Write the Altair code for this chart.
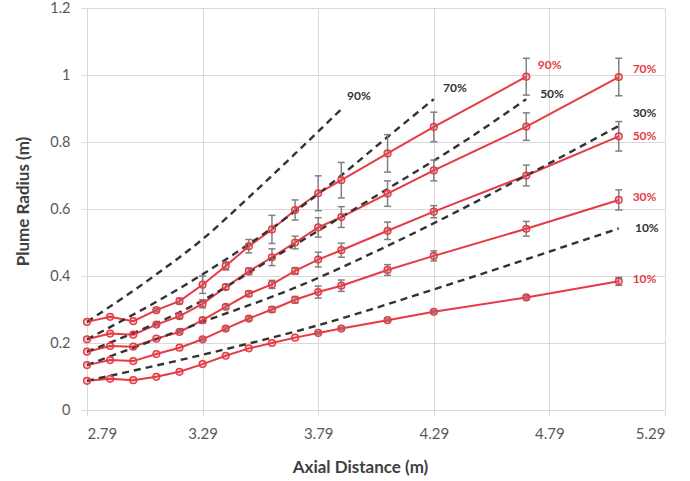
import altair as alt
import pandas as pd

RED = "#e63b44"
GRID = "#d9d9d9"
FONT = "Lato"

# Axial distance of measured points
x_exp = [2.79, 2.89, 2.99, 3.09, 3.19, 3.29, 3.39, 3.49, 3.59, 3.69, 3.79, 3.89, 4.09, 4.29, 4.69, 5.09]

# Measured plume radius (red) and error half-widths
r90 = [0.263, 0.278, 0.265, 0.298, 0.325, 0.374, 0.430, 0.489, 0.539, 0.597, 0.647, 0.686, 0.766, 0.845, 0.995]
e90 = [0, 0, 0, 0.005, 0.008, 0.026, 0.012, 0.020, 0.042, 0.030, 0.052, 0.053, 0.056, 0.044, 0.055]
r70 = [0.211, 0.228, 0.225, 0.255, 0.280, 0.317, 0.367, 0.414, 0.456, 0.500, 0.545, 0.576, 0.646, 0.715, 0.846, 0.994]
e70 = [0, 0, 0, 0.004, 0.006, 0.012, 0.008, 0.010, 0.025, 0.019, 0.029, 0.031, 0.038, 0.031, 0.041, 0.056]
r50 = [0.174, 0.191, 0.189, 0.213, 0.233, 0.268, 0.308, 0.347, 0.375, 0.415, 0.449, 0.477, 0.535, 0.592, 0.700, 0.817]
e50 = [0, 0, 0, 0, 0.004, 0.008, 0.006, 0.008, 0.012, 0.010, 0.022, 0.021, 0.026, 0.018, 0.031, 0.044]
r30 = [0.134, 0.149, 0.146, 0.167, 0.186, 0.211, 0.243, 0.273, 0.300, 0.329, 0.352, 0.371, 0.418, 0.460, 0.541, 0.627]
e30 = [0, 0, 0, 0, 0, 0.004, 0.005, 0.006, 0.008, 0.010, 0.018, 0.017, 0.016, 0.015, 0.022, 0.030]
r10 = [0.087, 0.093, 0.089, 0.099, 0.114, 0.137, 0.162, 0.184, 0.200, 0.216, 0.230, 0.243, 0.268, 0.293, 0.336, 0.384]
e10 = [0, 0, 0, 0, 0, 0, 0, 0, 0, 0, 0.004, 0.004, 0.004, 0.004, 0.005, 0.012]

# Model (dashed) curves
m90_x = [2.79, 3.09, 3.29, 3.49, 3.69, 3.89]
m90_y = [0.263, 0.405, 0.510, 0.635, 0.765, 0.898]
m70_x = [2.79, 3.29, 3.79, 4.09, 4.29]
m70_y = [0.211, 0.405, 0.645, 0.815, 0.928]
m50_x = [2.79, 3.29, 3.59, 4.09, 4.44, 4.69]
m50_y = [0.174, 0.327, 0.452, 0.660, 0.810, 0.928]
m30_x = [2.79, 3.29, 3.69, 4.09, 4.69, 5.09]
m30_y = [0.134, 0.263, 0.365, 0.490, 0.700, 0.848]
m10_x = [2.79, 3.29, 3.79, 4.29, 4.69, 5.09]
m10_y = [0.087, 0.165, 0.253, 0.360, 0.450, 0.542]

# Labels
red_labels = ["90%", "70%", "50%", "30%", "10%"]
red_lab_x = [4.74, 5.15, 5.15, 5.15, 5.15]
red_lab_y = [1.03, 1.018, 0.818, 0.635, 0.390]
blk_labels = ["90%", "70%", "50%", "30%", "10%"]
blk_lab_x = [3.915, 4.33, 4.75, 5.15, 5.16]
blk_lab_y = [0.937, 0.962, 0.943, 0.888, 0.542]

x_ticks = [2.79, 3.29, 3.79, 4.29, 4.79, 5.29]
y_ticks = [0, 0.2, 0.4, 0.6, 0.8, 1.0, 1.2]

rows = []
for name, ys, es in [("90%", r90, e90), ("70%", r70, e70), ("50%", r50, e50),
                     ("30%", r30, e30), ("10%", r10, e10)]:
    for xv, yv, ev in zip(x_exp, ys, es):
        rows.append({"x": xv, "y": yv, "lo": yv - ev, "hi": yv + ev, "err": ev, "series": name})
df = pd.DataFrame(rows)
df_err = df[df["err"] > 0]

mrows = []
for name, xs, ys in [("90%", m90_x, m90_y), ("70%", m70_x, m70_y), ("50%", m50_x, m50_y),
                     ("30%", m30_x, m30_y), ("10%", m10_x, m10_y)]:
    for i, (xv, yv) in enumerate(zip(xs, ys)):
        mrows.append({"x": xv, "y": yv, "series": name, "order": i})
dfm = pd.DataFrame(mrows)

df_rl = pd.DataFrame({"x": red_lab_x, "y": red_lab_y, "t": red_labels})
df_bl = pd.DataFrame({"x": blk_lab_x, "y": blk_lab_y, "t": blk_labels})

xscale = alt.Scale(domain=[2.79, 5.29], nice=False, zero=False)
yscale = alt.Scale(domain=[0, 1.2], nice=False)

xaxis = alt.Axis(values=x_ticks, format=".2f", title="Axial Distance (m)",
                 grid=True, gridColor=GRID, domainColor=GRID, tickColor=GRID, tickSize=6,
                 labelFont=FONT, labelFontSize=15, labelColor="#595959", labelPadding=10,
                 titleFont=FONT, titleFontSize=17, titleFontWeight="bold", titleColor="#404040",
                 titleX=273, titleY=57, titleBaseline="middle")
yaxis = alt.Axis(values=y_ticks, format="~g", title="Plume Radius (m)",
                 grid=True, gridColor=GRID, domain=False, tickColor=GRID, tickSize=6,
                 labelFont=FONT, labelFontSize=14.5, labelColor="#595959", labelPadding=11,
                 titleFont=FONT, titleFontSize=17, titleFontWeight="bold", titleColor="#404040",
                 titleX=-64, titleY=193, titleBaseline="middle", titleAngle=-90, titleAlign="center")

X = alt.X("x:Q", scale=xscale, axis=xaxis)
Y = alt.Y("y:Q", scale=yscale, axis=yaxis)

dashed = alt.Chart(dfm).mark_line(color="#333333", strokeWidth=2.4, strokeDash=[7, 5],
                                  interpolate="monotone").encode(
    x=alt.X("x:Q", scale=xscale), y=alt.Y("y:Q", scale=yscale),
    detail="series:N", order="order:Q")

lines = alt.Chart(df).mark_line(color=RED, strokeWidth=2).encode(
    x=X, y=Y, detail="series:N")

err_rule = alt.Chart(df_err).mark_rule(color="#808080", strokeWidth=1.5).encode(
    x=alt.X("x:Q", scale=xscale), y=alt.Y("lo:Q", scale=yscale), y2="hi:Q")
cap_lo = alt.Chart(df_err).mark_rule(color="#808080", strokeWidth=1.5, xOffset=-3.5, x2Offset=3.5).encode(
    x=alt.X("x:Q", scale=xscale), x2="x:Q", y=alt.Y("lo:Q", scale=yscale))
cap_hi = alt.Chart(df_err).mark_rule(color="#808080", strokeWidth=1.5, xOffset=-3.5, x2Offset=3.5).encode(
    x=alt.X("x:Q", scale=xscale), x2="x:Q", y=alt.Y("hi:Q", scale=yscale))

points = alt.Chart(df).mark_point(shape="circle", size=45, filled=True, color=RED,
                                  fillOpacity=0.25, stroke=RED, strokeWidth=1.5).encode(
    x=alt.X("x:Q", scale=xscale), y=alt.Y("y:Q", scale=yscale))

red_text = alt.Chart(df_rl).mark_text(color=RED, font=FONT, fontSize=12, fontWeight="bold",
                                      align="left", baseline="middle").encode(
    x=alt.X("x:Q", scale=xscale), y=alt.Y("y:Q", scale=yscale), text="t:N")
blk_text = alt.Chart(df_bl).mark_text(color="#333333", font=FONT, fontSize=12, fontWeight="bold",
                                      align="left", baseline="middle").encode(
    x=alt.X("x:Q", scale=xscale), y=alt.Y("y:Q", scale=yscale), text="t:N")

chart = alt.layer(lines, dashed, err_rule, cap_lo, cap_hi, points, red_text, blk_text).properties(
    width=578, height=402,
    padding={"left": 87, "top": 8, "right": 25, "bottom": 71},
    autosize=alt.AutoSizeParams(type="none"),
    background="white",
).configure_view(stroke=None)

chart.save("out.html", embed_options={"renderer": "svg", "actions": False})
